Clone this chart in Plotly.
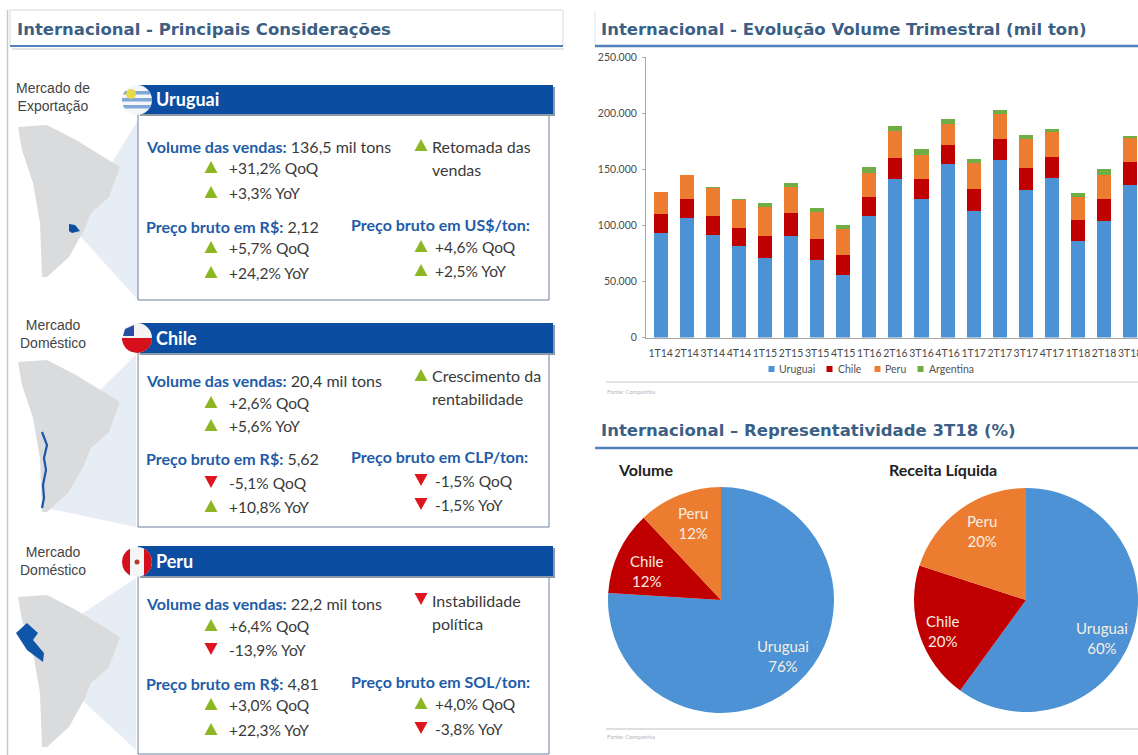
import numpy as np
import plotly.graph_objects as go

W, H = 1138, 755
quarters = ["1T14","2T14","3T14","4T14","1T15","2T15","3T15","4T15","1T16","2T16","3T16","4T16","1T17","2T17","3T17","4T17","1T18","2T18","3T18"]
uruguai = [93400,106200,91300,81600,70900,90400,69100,55800,107900,141500,123700,154500,113000,158000,131400,142300,86000,103500,135800]
chile = [16300,17200,17200,16300,19500,20200,19000,18000,17500,18300,17200,17200,19600,18500,19800,18400,18700,19600,20200]
peru = [20200,21300,25200,25200,26100,23700,24000,23200,21400,24100,22200,19000,22500,22800,25300,22300,20700,21300,22500]
argentina = [0,0,300,300,3000,3600,2900,3000,5300,4400,5000,3800,3600,3800,4400,3200,3300,6200,300]
pie_labels = ["Uruguai","Chile","Peru"]
pie_volume = [76,12,12]
pie_receita = [60,20,20]
series_names = ["Uruguai","Chile","Peru","Argentina"]
C_U, C_C, C_P, C_A = "#4C92D4", "#C00000", "#EC7C30", "#6FAE45"
BLUE = "#1F5CA8"; GREEN = "#8DB624"; RED = "#DE1620"; HEAD = "#3C5F86"; TXT = "#3A3A3A"

def X(p): return p / W
def Y(p): return 1 - p / H

fig = go.Figure()
for name, vals, col in zip(series_names,[uruguai,chile,peru,argentina],[C_U,C_C,C_P,C_A]):
    fig.add_bar(x=quarters, y=vals, name=name, marker_color=col, marker_line_width=0, showlegend=False)
for vals, x0, x1, y0, y1 in [(pie_volume,608,834,487,713),(pie_receita,914,1138,488,712)]:
    fig.add_pie(labels=pie_labels, values=vals, sort=False, direction="clockwise", rotation=0,
                marker=dict(colors=[C_U,C_C,C_P], line_width=0), textinfo="none", showlegend=False,
                domain=dict(x=[X(x0),X(x1)], y=[Y(y1),Y(y0)]))

shapes, ann = [], []
def rect(x0,y0,x1,y1,fill,line=None,lw=1):
    shapes.append(dict(type="rect",xref="paper",yref="paper",x0=X(x0),x1=X(x1),y0=Y(y0),y1=Y(y1),fillcolor=fill,
                       line=dict(color=line or "rgba(0,0,0,0)",width=lw if line else 0)))
def line(x0,y0,x1,y1,col,lw=1):
    shapes.append(dict(type="line",xref="paper",yref="paper",x0=X(x0),x1=X(x1),y0=Y(y0),y1=Y(y1),line=dict(color=col,width=lw)))
def poly(pts,fill,col=None,lw=0,close=True):
    d = "M " + " L ".join(f"{X(a):.5f} {Y(b):.5f}" for a,b in pts) + (" Z" if close else "")
    shapes.append(dict(type="path",xref="paper",yref="paper",path=d,fillcolor=fill,
                       line=dict(color=col or "rgba(0,0,0,0)",width=lw)))
def text(x,y,t,size=15,col=TXT,fam="Lato",anchor="left"):
    ann.append(dict(xref="paper",yref="paper",x=X(x-3 if anchor=="left" else x),y=Y(y),text=t,showarrow=False,xanchor=anchor,yanchor="middle",
                    align="center" if anchor=="center" else "left",font=dict(family=fam,size=size,color=col)))
def tri(x,y,v):
    up = v != "-"
    s = 6.5
    pts = [(x-s,y+6),(x+s,y+6),(x,y-6)] if up else [(x-s,y-6),(x+s,y-6),(x,y+6)]
    poly(pts, GREEN if up else RED)
def circ(cx,cy,r,fill):
    shapes.append(dict(type="circle",xref="paper",yref="paper",x0=X(cx-r),x1=X(cx+r),y0=Y(cy+r),y1=Y(cy-r),fillcolor=fill,line=dict(color="rgba(0,0,0,0)",width=0)))
def band_h(cx,cy,r,a,b,fill):
    t = np.linspace(a,b,14)
    w = np.sqrt(np.maximum(r*r-t*t,0))
    poly([(cx-u,cy+v) for u,v in zip(w,t)]+[(cx+u,cy+v) for u,v in zip(w[::-1],t[::-1])],fill)
def band_v(cx,cy,r,a,b,fill):
    t = np.linspace(a,b,14)
    w = np.sqrt(np.maximum(r*r-t*t,0))
    poly([(cx+v,cy-u) for u,v in zip(w,t)]+[(cx+v,cy+u) for u,v in zip(w[::-1],t[::-1])],fill)

# frame and section headers
line(7.5,10,7.5,755,"#C9C9C9",1.5)
rect(12,48,564,50,"#E4E4E4"); rect(10,10,563,46,"#FFFFFF","#D5D9E0",1); line(10,46,563,46,"#4F81BD",2)
line(595,11,595,46,"#DDE3EA",1); line(595,46,1138,46,"#4F81BD",2.5)
line(595,448,1138,448,"#4F81BD",2.5)
line(606,382,1138,382,"#C4C8CC",1); line(606,729,1138,729,"#D4D4D4",1.5)
text(18,30,"<b>Internacional - Principais Considerações</b>",16.5,HEAD,"DejaVu Sans")
text(602,29,"<b>Internacional - Evolução Volume Trimestral (mil ton)</b>",16.5,HEAD,"DejaVu Sans")
text(602,431,"<b>Internacional – Representatividade 3T18 (%)</b>",16.5,HEAD,"DejaVu Sans")
text(608,391,"Fonte: Companhia",6,"#B5B5B5"); text(608,736,"Fonte: Companhia",6,"#B5B5B5")
text(619,469,"<b>Volume</b>",16,"#222222"); text(890,469,"<b>Receita Líquida</b>",16,"#222222")

# bar legend
for name, col, sx, tx in zip(series_names,[C_U,C_C,C_P,C_A],[771.5,829.5,877.5,920.5],[780,839,886,930]):
    rect(sx-3,366,sx+3,372,col)
    text(tx,369,name,10.5,"#555555")

# pie labels
for vals, px, py in [(pie_volume,[783,647,693],[656,571,523]),(pie_receita,[1102,943,982],[638,631,531])]:
    for lab, v, a, b in zip(pie_labels, vals, px, py):
        text(a,b,f"{lab}<br>{v}%",15,"#F6EEE4","Lato","center")

# country panels
names = ["Uruguai","Chile","Peru"]
market = ["Mercado de<br>Exportação","Mercado<br>Doméstico","Mercado<br>Doméstico"]
volume = ["136,5 mil tons","20,4 mil tons","22,2 mil tons"]
vol_var = [["+31,2% QoQ","+3,3% YoY"],["+2,6% QoQ","+5,6% YoY"],["+6,4% QoQ","-13,9% YoY"]]
notes = [["Retomada das","vendas"],["Crescimento da","rentabilidade"],["Instabilidade","política"]]
note_dir = ["+","+","-"]
price_rs = ["2,12","5,62","4,81"]
rs_var = [["+5,7% QoQ","+24,2% YoY"],["-5,1% QoQ","+10,8% YoY"],["+3,0% QoQ","+22,3% YoY"]]
fx_name = ["US$/ton","CLP/ton","SOL/ton"]
fx_var = [["+4,6% QoQ","+2,5% YoY"],["-1,5% QoQ","-1,5% YoY"],["+4,0% QoQ","-3,8% YoY"]]
bar_top = [85,323,546]; bar_bot = [114,353,576]; box_bot = [300,527,754]
mk_y = [97,334,561]
rows_l = [[146,168,193,226,248,273],[380,403,426,459,483,507],[603,626,650,683,705,730]]
rows_r = [[146,169,224,247,271],[376,398,457,481,505],[600,623,681,704,729]]
map_off = [0,235,470]
wedge = [[(72,228),(138,120),(138,300),(80,236)],
         [(48,440),(136,355),(136,527),(46,508)],
         [(42,640),(136,578),(136,750),(44,665)]]
sa = [(18,127),(47,125),(76,140),(120,167),(109,197),(91,213),(84,230),(69,257),(47,277),(42,277),(40,223),(33,183),(22,150)]

for i, n in enumerate(names):
    poly(wedge[i], "rgba(205,220,236,0.5)")
    poly([(a,b+map_off[i]) for a,b in sa], "#DADBDD")
    rect(138,bar_bot[i],549,box_bot[i],"#FFFFFF","#6E7FA0",1)
    rect(140,bar_top[i]+2,555,bar_bot[i]+2,"#8E99A8")
    rect(138,bar_top[i],553,bar_bot[i],"#0B4DA0")
    text(157,(bar_top[i]+bar_bot[i])/2,f"<b>{n}</b>",18,"#FFFFFF","Lato")
    text(53,mk_y[i],market[i],14,"#444444","Liberation Sans","center")
    L = rows_l[i]; R = rows_r[i]
    text(147,L[0],f'<b><span style="color:{BLUE}">Volume das vendas:</span></b> {volume[i]}',16)
    for k in (0,1):
        tri(211,L[1+k]-1,vol_var[i][k][0]); text(230,L[1+k],vol_var[i][k],15.5)
        tri(211,L[4+k]-1,rs_var[i][k][0]); text(230,L[4+k],rs_var[i][k],15.5)
        tri(421,R[3+k]-1,fx_var[i][k][0]); text(436,R[3+k],fx_var[i][k],15.5)
    tri(421,R[0]-1,note_dir[i]); text(433,R[0],notes[i][0],16); text(433,R[1],notes[i][1],16)
    text(147,L[3],f'<b><span style="color:{BLUE}">Preço bruto em R$:</span></b> {price_rs[i]}',16)
    text(352,R[2],f'<b><span style="color:{BLUE}">Preço bruto em {fx_name[i]}:</span></b>',16)

# highlighted territories
poly([(69,224),(75,225),(80,231),(72,233),(69,231)],"#0B4DA0")
poly([(42,432),(47,445),(44,458),(46,470),(43,485),(44,498),(42,508)],"rgba(0,0,0,0)","#1A57A8",2.2,close=False)
poly([(16,633),(27,623),(38,633),(33,640),(44,653),(43,662),(27,650)],"#0F56A8")

# flags
circ(137,100,15,"#F4F6FA")
for a,b in [(-9,-5.5),(-2,1.5),(5,8.5)]: band_h(137,100,15,a,b,"#7FA8D8")
circ(131,94,5,"#E8D94A")
circ(137,338,15,"#F4F4F4"); band_h(137,338,15,0,15,"#D5101C"); poly([(125,329),(134,325),(134,336),(123,336)],"#2A4FA0")
circ(137,562,15,"#F5F5F5"); band_v(137,562,15,-15,-7,"#D5101C"); band_v(137,562,15,7,15,"#D5101C"); circ(137,562,2.5,"#B53A2A")

fig.update_layout(
    width=W, height=H, autosize=False, margin=dict(l=0,r=0,t=0,b=0), paper_bgcolor="#FFFFFF", plot_bgcolor="#FFFFFF",
    barmode="stack", bargap=0.46, separators=",.", shapes=shapes, annotations=ann, showlegend=False,
    font=dict(family="Lato", color="#555555"),
    xaxis=dict(domain=[X(646),1], range=[-0.56,18.3], type="category", showgrid=False, showline=True, linecolor="#A8A8A8",
               ticks="", tickfont=dict(size=10.5,color="#4A4A4A"), tickangle=0, ticklabelstandoff=6, fixedrange=True, automargin=False, ticklabeloverflow="allow"),
    yaxis=dict(domain=[Y(337.5),Y(57)], range=[0,250000], tickvals=[0,50000,100000,150000,200000,250000], tickformat=",d",
               showgrid=False, showline=True, linecolor="#A8A8A8", ticks="outside", ticklen=3, tickcolor="#A8A8A8", ticklabelstandoff=3,
               tickfont=dict(size=10.5,color="#4A4A4A"), zeroline=False, fixedrange=True, automargin=False),
)
fig.write_html("out.html", config=dict(displayModeBar=False),
               post_script="document.body.style.margin='0';document.body.style.overflow='hidden';")
